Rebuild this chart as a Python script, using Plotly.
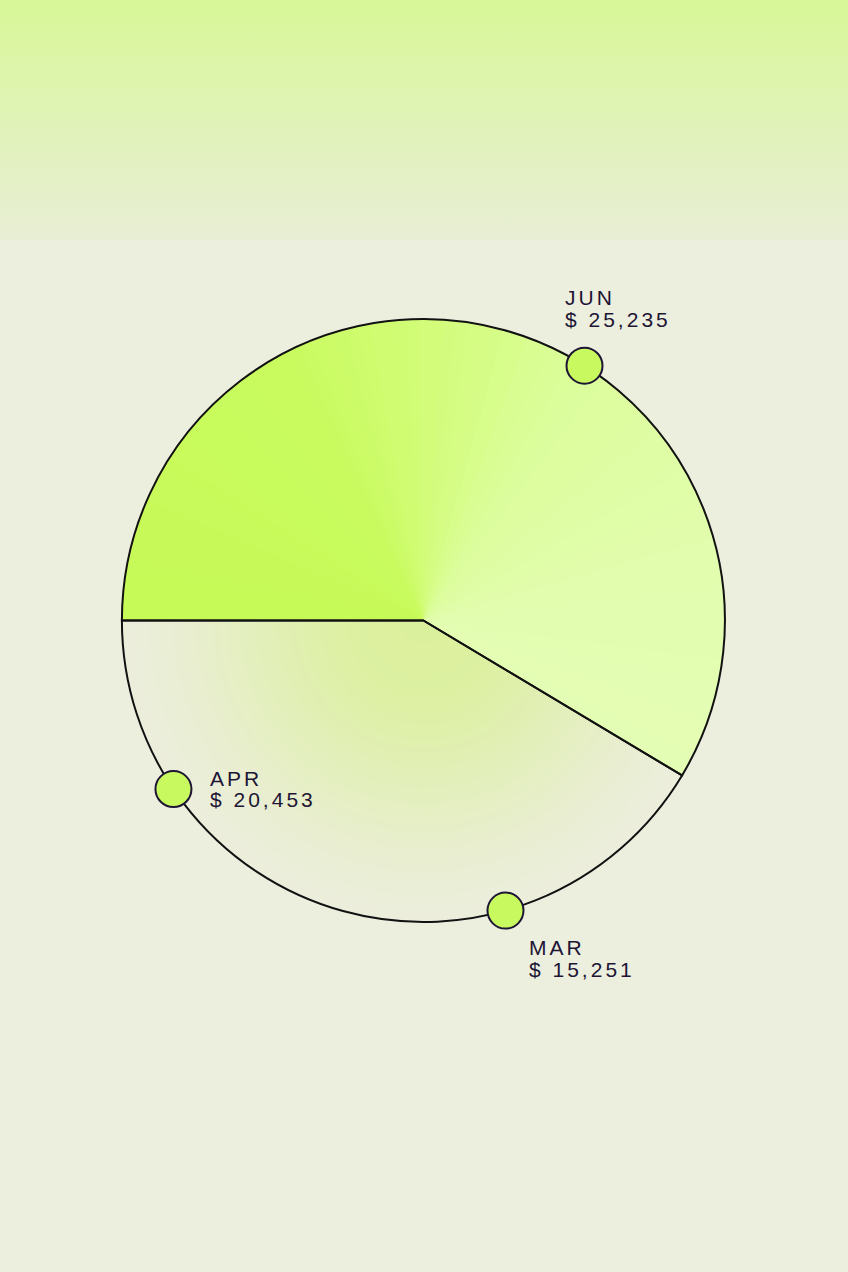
import math
import plotly.graph_objects as go

# monthly totals shown in the callouts
months = ["JUN", "APR", "MAR"]
amounts = [25235, 20453, 15251]

# where each callout dot sits on the rim, degrees clockwise from 12 o'clock
callout_theta = [32.3, 236.0, 164.2]

# page geometry (px)
W, H = 848, 1272
CX, CY, R = 423.4, 620.5, 301.5
RMAX = 1.04           # radial range headroom so the rim stroke isn't clipped
BAND_H = 240
N = 90

BG = "#eceede"
INK = "#1e1535"
EDGE = "#121212"
DOT = "#c8f95e"
FONT = "Liberation Sans, Arial, sans-serif"

# label offsets from dot centre: (dx, dy month, dy amount), px
label_offsets = [(-19.5, 68, 46), (36.5, 10.5, -10.5), (23.5, -37, -59)]

conic_stops = [(0.0, "#c6fa56"), (0.30, "#c9fb5f"), (0.43, "#d2fc79"),
               (0.58, "#dcfd9c"), (0.80, "#e2fdae"), (1.0, "#e4fdb4")]
radial_stops = [(0.0, "#dbf09b"), (0.3, "#ddf0a4"), (0.55, "#e3efbb"),
                (0.8, "#e9eed2"), (1.0, "#eceedc")]


def hex_rgb(h):
    h = h.lstrip("#")
    return [int(h[i:i + 2], 16) for i in (0, 2, 4)]


def mix(stops, t):
    for (p0, c0), (p1, c1) in zip(stops, stops[1:]):
        if t <= p1:
            f = (t - p0) / (p1 - p0) if p1 > p0 else 0
            a, b = hex_rgb(c0), hex_rgb(c1)
            return "rgb(%d,%d,%d)" % tuple(round(a[i] + (b[i] - a[i]) * f) for i in range(3))
    return stops[-1][1]


total = sum(amounts)
lower_w = 360 * amounts[0] / total
upper_w = 360 - lower_w
upper_start = 270                  # 9 o'clock, sweeping over the top
lower_start = 270 - lower_w

fig = go.Figure()

# soft green band at the top of the page
fig.add_trace(go.Scatter(
    x=[0, 1, 1, 0, 0], y=[0, 0, 1, 1, 0], fill="toself", mode="none",
    fillgradient=dict(type="vertical", colorscale=[[0, "#e8eed5"], [1, "#d8f798"]]),
    hoverinfo="skip", xaxis="x", yaxis="y"))

# upper wedge: conic shading, painted widest first
ext = [upper_w * (N - k) / N for k in range(N)]
fig.add_trace(go.Barpolar(
    r=[1] * N, theta=[upper_start + e / 2 for e in ext], width=ext,
    marker=dict(color=[mix(conic_stops, (N - k - 0.5) / N) for k in range(N)], line_width=0),
    hoverinfo="skip"))

# lower wedge: radial shading, painted largest first
fig.add_trace(go.Barpolar(
    r=[(N - k) / N for k in range(N)], theta=[lower_start + lower_w / 2] * N, width=[lower_w] * N,
    marker=dict(color=[mix(radial_stops, (N - k - 0.5) / N) for k in range(N)], line_width=0),
    hoverinfo="skip"))

# outlines
fig.add_trace(go.Barpolar(
    r=[1, 1], theta=[upper_start + upper_w / 2, lower_start + lower_w / 2], width=[upper_w, lower_w],
    marker=dict(color="rgba(0,0,0,0)", line=dict(color=EDGE, width=2)),
    hoverinfo="skip"))

fig.add_trace(go.Scatterpolar(
    r=[1] * len(months), theta=callout_theta, mode="markers", cliponaxis=False,
    marker=dict(size=36, color=DOT, line=dict(color=INK, width=2)),
    hoverinfo="skip"))


def rim_point(theta):
    a = math.radians(theta)
    return (CX + R * math.sin(a)) / W, 1 - (CY - R * math.cos(a)) / H


spaced = '<span style="letter-spacing:3px">%s</span>'
for name, val, th, (dx, dy1, dy2) in zip(months, amounts, callout_theta, label_offsets):
    px, py = rim_point(th)
    for txt, dy in ((name, dy1), ("$ {:,}".format(val), dy2)):
        fig.add_annotation(
            x=px, y=py, xref="paper", yref="paper", text=spaced % txt, showarrow=False,
            xanchor="left", yanchor="middle", xshift=dx, yshift=dy,
            borderpad=0, borderwidth=0, font=dict(family=FONT, size=21, color=INK))

RD = R * RMAX
fig.update_layout(
    width=W, height=H, margin=dict(l=0, r=0, t=0, b=0),
    paper_bgcolor=BG, plot_bgcolor="rgba(0,0,0,0)", showlegend=False,
    xaxis=dict(domain=[0, 1], range=[0, 1], visible=False, fixedrange=True),
    yaxis=dict(domain=[1 - BAND_H / H, 1], range=[0, 1], visible=False, fixedrange=True),
    polar=dict(
        domain=dict(x=[(CX - RD) / W, (CX + RD) / W], y=[1 - (CY + RD) / H, 1 - (CY - RD) / H]),
        bgcolor="rgba(0,0,0,0)", barmode="overlay",
        radialaxis=dict(visible=False, range=[0, RMAX]),
        angularaxis=dict(visible=False, rotation=90, direction="clockwise"),
    ),
)

fig.write_html(
    "out.html",
    config={"displayModeBar": False},
    post_script="document.body.style.margin='0';document.body.style.background='%s';" % BG,
)
